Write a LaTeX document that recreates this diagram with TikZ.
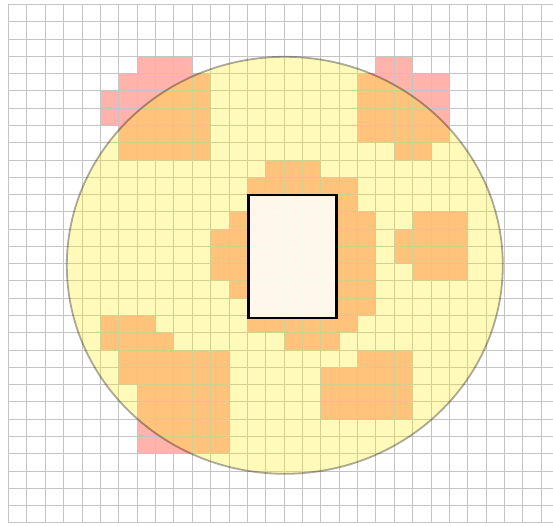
\documentclass[tikz,border=0pt]{standalone}
\usetikzlibrary{calc}
\definecolor{cellpink}{RGB}{255,179,170}
\definecolor{gridgray}{RGB}{196,196,196}
\definecolor{discyellow}{RGB}{255,240,0}
\tikzset{
  cellfill/.style={fill=cellpink, draw=none},
  gridline/.style={draw=gridgray, line width=1.2bp},
  disc/.style={fill=discyellow, fill opacity=0.27, draw=black, draw opacity=0.33, line width=1.8bp},
  centrebox/.style={fill=white, fill opacity=0.86, draw=black, draw opacity=1, line width=2.4bp}
}
\begin{document}
\begin{tikzpicture}[x=1bp,y=-1bp]
\useasboundingbox (0,0) rectangle (553,527);
\fill[white] (0,0) rectangle (553,527);
\def\gx{8.1}\def\gy{4}\def\cw{18.37}\def\ch{17.28}
% pink cells
\foreach \r/\a/\b in {3/7/9,4/6/10,5/5/10,6/5/10,7/6/10,8/6/10,
  3/20/21,4/19/23,5/19/23,6/19/23,7/19/23,8/21/22,
  9/14/16,10/13/18,11/13/18,12/12/12,12/13/19,13/11/19,14/11/19,15/11/19,16/12/19,17/13/19,18/13/18,19/15/17,
  12/22/24,13/21/24,14/21/24,15/22/24,
  18/5/7,19/5/8,20/6/11,21/6/11,22/7/11,23/7/11,24/7/11,25/7/11,
  20/19/21,21/17/21,22/17/21,23/17/21}{
  \foreach \c in {\a,...,\b}{
    \path[cellfill] ({round(\gx+\c*\cw)+0.5},{round(\gy+\r*\ch)+0.5}) rectangle ({round(\gx+(\c+1)*\cw)+0.5},{round(\gy+(\r+1)*\ch)+0.5});
  }
}
% grid
\begin{scope}
\clip (0,0) rectangle (553,527);
\foreach \c in {0,...,29}{
  \draw[gridline] ({round(\gx+\c*\cw)+0.5},{round(\gy)+0.5}) -- ({round(\gx+\c*\cw)+0.5},{round(\gy+30*\ch)+0.5});
}
\foreach \r in {0,...,30}{
  \draw[gridline] ({round(\gx)+0.5},{round(\gy+\r*\ch)+0.5}) -- (553,{round(\gy+\r*\ch)+0.5});
}
\end{scope}
% disc
\coordinate (disccentre) at (284.8,265.3);
\path[disc] (disccentre) ellipse [x radius=218, y radius=208.5];
% centre box
\coordinate (boxa) at (248.3,195);
\coordinate (boxb) at (336.5,317.8);
\path[centrebox] (boxa) rectangle (boxb);
\end{tikzpicture}
\end{document}
